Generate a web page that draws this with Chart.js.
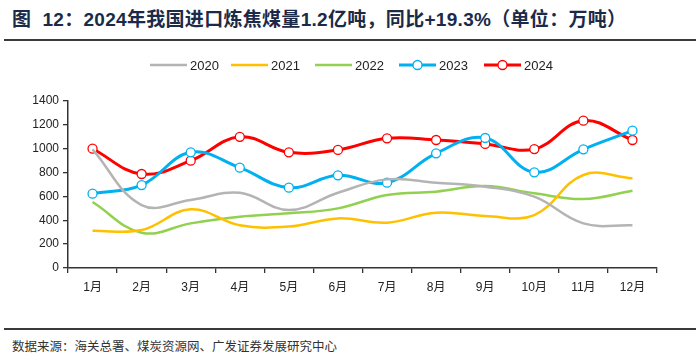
<!DOCTYPE html>
<html lang="zh">
<head>
<meta charset="UTF-8">
<title>2024年我国进口炼焦煤量</title>
<script src="https://cdn.jsdelivr.net/npm/chart.js"></script>
<style>
    body { margin: 0; width: 700px; height: 359px; background: #fff; position: relative; overflow: hidden; }
    #title {
        position: absolute; left: 12px; top: 4px;
        font-family: "Liberation Sans", "Noto Sans CJK SC", sans-serif;
        font-size: 19px; font-weight: bold; color: #1b2a48; white-space: nowrap; letter-spacing: 0.3px;
    }
    .rule { position: absolute; left: 4px; width: 692px; height: 2px; background: #3a3a3a; }
    #box { position: absolute; left: 0; top: 45px; width: 700px; height: 270px; }
    #source {
        position: absolute; left: 12px; top: 336px;
        font-family: "Noto Sans CJK SC", sans-serif; font-size: 12.5px; color: #333; white-space: nowrap;
    }
</style>
</head>
<body>
<div id="title">图&nbsp;&nbsp;12：2024年我国进口炼焦煤量1.2亿吨，同比+19.3%（单位：万吨）</div>
<div class="rule" style="top:39px"></div>
<div id="box"><canvas id="c" width="700" height="270"></canvas></div>
<div class="rule" style="top:328px"></div>
<div id="source">数据来源：海关总署、煤炭资源网、广发证券发展研究中心</div>

<script>
const months = ['1月', '2月', '3月', '4月', '5月', '6月', '7月', '8月', '9月', '10月', '11月', '12月'];
const y2020 = [995, 528, 570, 631, 486, 631, 743, 715, 682, 598, 374, 358];
const y2021 = [313, 318, 492, 358, 347, 416, 380, 464, 436, 444, 780, 752];
const y2022 = [553, 296, 374, 430, 458, 500, 612, 640, 687, 626, 578, 648];
const y2023 = [623, 695, 970, 841, 673, 777, 715, 961, 1090, 802, 995, 1151];
const y2024 = [1000, 788, 900, 1100, 970, 990, 1087, 1073, 1040, 997, 1235, 1073];

function series(label, data, color, width, marker) {
    return {
        label, data,
        borderColor: color,
        borderWidth: width,
        tension: 0.4,
        pointRadius: marker ? 4.5 : 0,
        pointBackgroundColor: '#fff',
        pointBorderColor: color,
        pointBorderWidth: 1.3,
        marker
    };
}

// legend drawn by hand so the marker sits on the line
const legendPlugin = {
    id: 'lineLegend',
    afterDraw(chart) {
        const ctx = chart.ctx;
        const xs = [150, 231, 315, 399, 484];
        const y = 20;
        ctx.save();
        ctx.font = '13px "Liberation Sans", Arial, sans-serif';
        ctx.textBaseline = 'middle';
        chart.data.datasets.forEach((ds, i) => {
            const x = xs[i];
            ctx.strokeStyle = ds.borderColor;
            ctx.lineWidth = ds.borderWidth;
            ctx.beginPath();
            ctx.moveTo(x, y);
            ctx.lineTo(x + 37, y);
            ctx.stroke();
            if (ds.marker) {
                ctx.fillStyle = '#fff';
                ctx.lineWidth = 1.3;
                ctx.beginPath();
                ctx.arc(x + 18.5, y, 4.5, 0, Math.PI * 2);
                ctx.fill();
                ctx.stroke();
            }
            ctx.fillStyle = '#222';
            ctx.fillText(ds.label, x + 40, y + 1);
        });
        ctx.restore();
    }
};

const tickFont = { family: '"Liberation Sans", Arial, "Noto Sans CJK SC", sans-serif', size: 12 };

new Chart(document.getElementById('c'), {
    type: 'line',
    data: {
        labels: months,
        datasets: [
            series('2020', y2020, '#b4b4b4', 2.5, false),
            series('2021', y2021, '#ffc000', 2.5, false),
            series('2022', y2022, '#92d050', 2.5, false),
            series('2023', y2023, '#00b0f0', 3, true),
            series('2024', y2024, '#ff0000', 3, true)
        ]
    },
    options: {
        responsive: false,
        animation: false,
        layout: { padding: { top: 56, right: 43, left: 0, bottom: 0 } },
        plugins: { legend: { display: false }, tooltip: { enabled: false } },
        scales: {
            x: {
                offset: true,
                grid: { offset: true, drawOnChartArea: false, drawTicks: true, tickLength: 5, color: '#333', lineWidth: 1.3 },
                border: { display: true, color: '#333', width: 1.5 },
                ticks: { font: tickFont, color: '#222', padding: 7, maxRotation: 0 },
                afterFit(s) { s.height = 47; }
            },
            y: {
                min: 0, max: 1400,
                ticks: { stepSize: 200, font: tickFont, color: '#222', padding: 4, callback: v => String(v) },
                grid: { drawOnChartArea: false, drawTicks: true, tickLength: 5, color: '#333', lineWidth: 1.3 },
                border: { display: true, color: '#333', width: 1.5 },
                afterFit(s) { s.width = 68; }
            }
        }
    },
    plugins: [legendPlugin]
});
</script>
</body>
</html>
